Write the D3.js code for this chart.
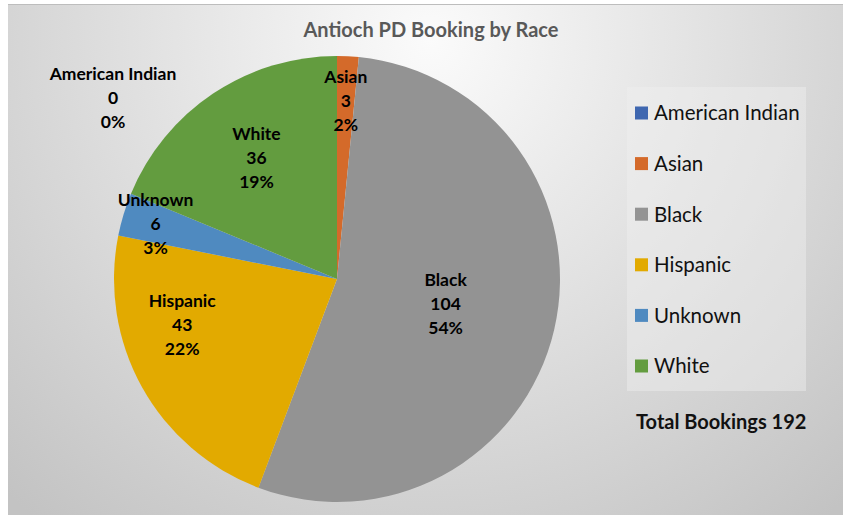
<!DOCTYPE html>
<html lang="en">
<head>
  <meta charset="utf-8">
  <title>Antioch PD Booking by Race</title>
  <style>
  body { margin: 0; background: #fff; }
  .slice-label { font-family: Lato, "Open Sans", sans-serif; font-weight: bold; font-size: 17.5px; fill: #000; }
  .legend text { font-family: Lato, "Open Sans", sans-serif; font-size: 20.5px; fill: #111; }
  </style>
  <script src="https://cdn.jsdelivr.net/npm/d3@7"></script>
</head>
<body>
  <svg width="843" height="515"></svg>
  <script>
  var races = ["American Indian", "Asian", "Black", "Hispanic", "Unknown", "White"];
  var bookings = [0, 3, 104, 43, 6, 36];
  var percents = ["0%", "2%", "54%", "22%", "3%", "19%"];
  var colors = ["#3f67b0", "#d46a2a", "#939393", "#e2aa00", "#4f8ac0", "#639c3f"];
  var totalLabel = "Total Bookings 192";

  // label placement: radius fraction + nudge (layout only)
  var labelLayout = {
    "American Indian": {r: 0.8, dx: -224, dy: -3},
    "Asian": {r: 0.8, dx: 0, dy: 0},
    "Black": {r: 0.5, dx: 0, dy: 0},
    "Hispanic": {r: 0.63, dx: -32, dy: -22},
    "Unknown": {r: 0.85, dx: 0, dy: 0},
    "White": {r: 0.65, dx: 0, dy: 0}
  };

  var svg = d3.select("svg"),
      cx = 337, cy = 279, radius = 223;

  var defs = svg.append("defs");
  var grad = defs.append("radialGradient")
      .attr("id", "bg")
      .attr("gradientUnits", "userSpaceOnUse")
      .attr("cx", 430).attr("cy", 40).attr("r", 620);
  grad.append("stop").attr("offset", "0%").attr("stop-color", "#fbfbfb");
  grad.append("stop").attr("offset", "100%").attr("stop-color", "#c3c3c3");

  svg.append("rect")
      .attr("x", 8).attr("y", 4)
      .attr("width", 835).attr("height", 511)
      .attr("fill", "url(#bg)");
  svg.append("line")
      .attr("x1", 8).attr("x2", 843).attr("y1", 4.5).attr("y2", 4.5)
      .attr("stroke", "#bdbdbd");

  svg.append("text")
      .attr("x", 431)
      .attr("y", 37)
      .attr("text-anchor", "middle")
      .attr("font-family", "Lato, 'Open Sans', sans-serif")
      .attr("font-weight", "bold")
      .style("font-size", "20px")
      .attr("fill", "#595959")
      .text("Antioch PD Booking by Race");

  var data = races.map(function(r, i) { return {race: r, value: bookings[i], pct: percents[i], color: colors[i]}; });

  var pie = d3.pie().sort(null).value(function(d) { return d.value; });
  var arc = d3.arc().innerRadius(0).outerRadius(radius);

  var g = svg.append("g").attr("transform", "translate(" + cx + "," + cy + ")");
  var arcs = pie(data);

  g.selectAll("path")
    .data(arcs)
    .enter().append("path")
      .attr("d", arc)
      .attr("fill", function(d) { return d.data.color; });

  var labels = g.selectAll(".slice-label")
    .data(arcs)
    .enter().append("text")
      .attr("class", "slice-label")
      .attr("text-anchor", "middle")
      .attr("transform", function(d) {
        var l = labelLayout[d.data.race];
        var c = d3.arc().innerRadius(radius * l.r).outerRadius(radius * l.r).centroid(d);
        return "translate(" + (c[0] + l.dx) + "," + (c[1] + l.dy) + ")";
      });

  labels.each(function(d) {
    var t = d3.select(this);
    [d.data.race, d.data.value, d.data.pct].forEach(function(s, i) {
      t.append("tspan").attr("x", 0).attr("y", (i - 1) * 24 + 6).text(s);
    });
  });

  // legend
  svg.append("rect")
      .attr("x", 627).attr("y", 87)
      .attr("width", 179).attr("height", 304)
      .attr("fill", "#f0f0f0").attr("fill-opacity", 0.45);

  var ly = d3.scalePoint().domain(races).range([113, 366]);

  var legend = svg.append("g").attr("class", "legend")
    .selectAll("g")
    .data(data)
    .enter().append("g")
      .attr("transform", function(d) { return "translate(635," + ly(d.race) + ")"; });

  legend.append("rect")
      .attr("x", 0).attr("y", -6.5)
      .attr("width", 13).attr("height", 13)
      .attr("fill", function(d) { return d.color; });

  legend.append("text")
      .attr("x", 19)
      .attr("dy", "0.36em")
      .text(function(d) { return d.race; });

  svg.append("text")
      .attr("x", 636)
      .attr("y", 429)
      .attr("font-family", "Lato, 'Open Sans', sans-serif")
      .attr("font-weight", "bold")
      .style("font-size", "20px")
      .attr("fill", "#111")
      .text(totalLabel);
  </script>
</body>
</html>
